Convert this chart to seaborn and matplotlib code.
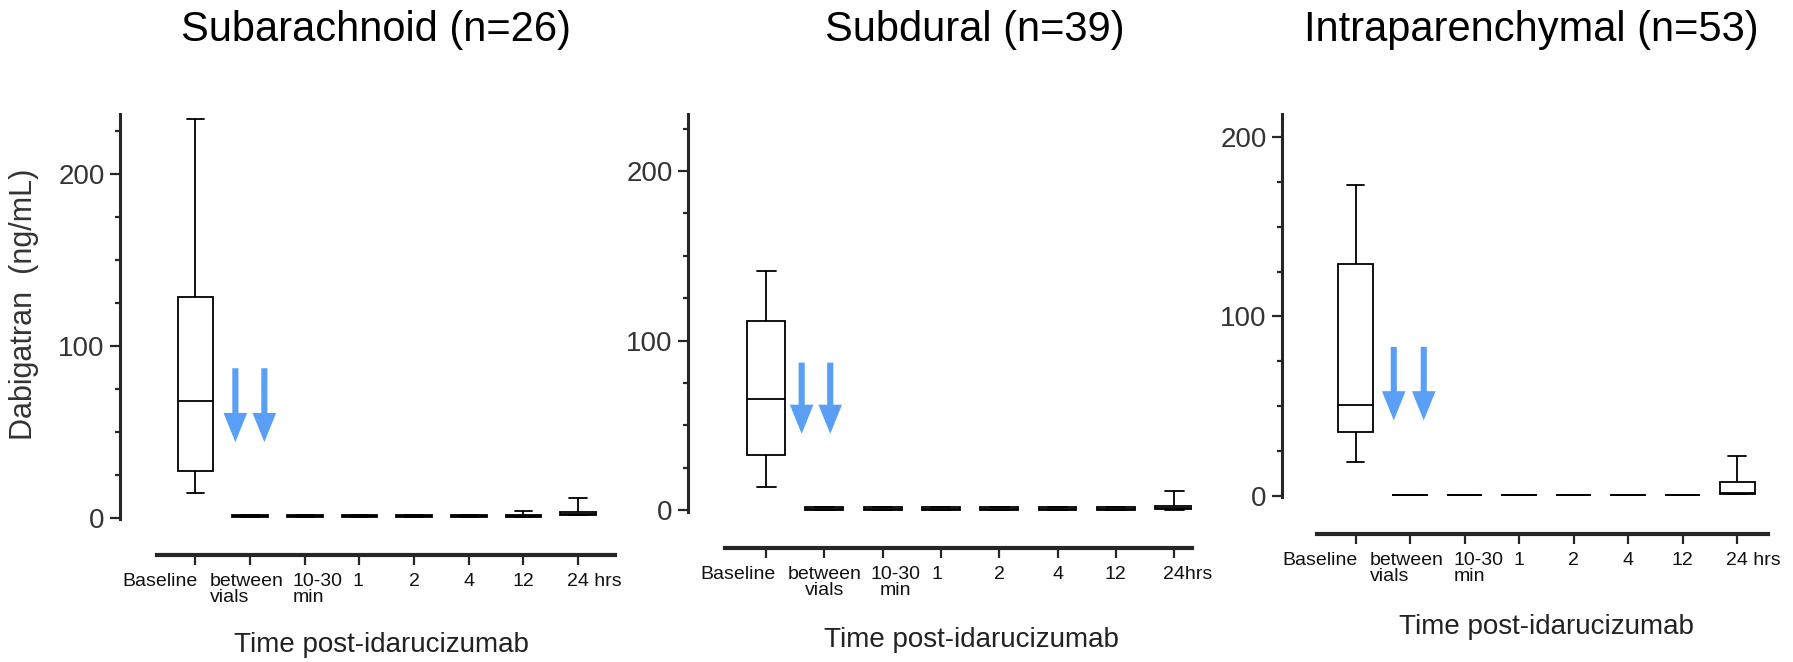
import numpy as np
import pandas as pd
import seaborn as sns
import matplotlib.pyplot as plt
import matplotlib.transforms as mtransforms
from matplotlib.ticker import MultipleLocator

# categories on the x axis
categories = ["Baseline", "between\nvials", "10-30\nmin", "1", "2", "4", "12", "24 hrs"]
titles = ["Subarachnoid (n=26)", "Subdural (n=39)", "Intraparenchymal (n=53)"]

# five-number summaries: min, q1, median, q3, max (ng/mL)
subarachnoid = [
    [14.5, 27.0, 68.0, 128.5, 232.0],
    [0.2, 0.2, 0.8, 1.6, 1.6],
    [0.2, 0.2, 0.8, 1.6, 1.6],
    [0.2, 0.2, 0.8, 1.6, 1.6],
    [0.2, 0.2, 0.8, 1.6, 1.6],
    [0.2, 0.2, 0.8, 1.6, 1.6],
    [0.2, 0.2, 0.8, 1.6, 3.9],
    [1.5, 1.5, 2.3, 3.1, 11.2],
]
subdural = [
    [13.4, 32.6, 65.3, 111.7, 141.2],
    [0.2, 0.2, 0.8, 1.6, 1.6],
    [0.2, 0.2, 0.8, 1.6, 1.6],
    [0.2, 0.2, 0.8, 1.6, 1.6],
    [0.2, 0.2, 0.8, 1.6, 1.6],
    [0.2, 0.2, 0.8, 1.6, 1.6],
    [0.2, 0.2, 0.8, 1.6, 1.6],
    [0.2, 0.5, 1.5, 2.6, 11.2],
]
intraparenchymal = [
    [19.0, 35.3, 50.6, 129.5, 173.6],
    [0.6, 0.6, 0.6, 0.6, 0.6],
    [0.6, 0.6, 0.6, 0.6, 0.6],
    [0.6, 0.6, 0.6, 0.6, 0.6],
    [0.6, 0.6, 0.6, 0.6, 0.6],
    [0.6, 0.6, 0.6, 0.6, 0.6],
    [0.6, 0.6, 0.6, 0.6, 0.6],
    [0.8, 0.8, 1.2, 7.8, 22.1],
]
panel_stats = [subarachnoid, subdural, intraparenchymal]

# blue arrows (idarucizumab vials): x in category units, shaft top, tip
arrow_x = [[0.73, 1.26], [0.61, 1.10], [0.70, 1.25]]
arrow_top = [87, 87, 83]
arrow_tip = [44, 45, 42]

W, H = 1793, 662
# axes boxes in pixels: left, right, top, bottom ; limits
ax_px = [(120, 614.8, 114, 555), (688, 1191.6, 114, 548), (1282, 1768.3, 114, 534.3)]
ylims = [(-21.7, 235), (-22.3, 233.6), (-21.6, 213)]
xlims = [(-1.38, 7.67), (-1.34, 7.30), (-1.35, 7.57)]
title_px = [(376, 30), (975, 30), (1531, 30)]
xlabel_px = [(381, 645), (971, 640), (1546, 627)]

# tick label tweaks per panel: (ha, multialignment, dx in px)
label_tweaks = [
    [("right", "left", 2), ("left", "left", -40), ("left", "left", -12), ("center", "left", -2),
     ("center", "left", 0), ("center", "left", 0), ("center", "left", 0), ("left", "left", -11)],
    [("right", "left", 10), ("center", "center", 0), ("left", "center", -12), ("center", "left", -4),
     ("center", "left", 0), ("center", "left", 0), ("center", "left", 0), ("left", "left", -11)],
    [("right", "left", 2), ("left", "left", -40), ("left", "left", -11), ("center", "left", 0),
     ("center", "left", 0), ("center", "left", 0), ("center", "left", 0), ("left", "left", -11)],
]

sns.set_style("ticks")
plt.rcParams["font.family"] = ["Liberation Sans", "DejaVu Sans"]

fig = plt.figure(figsize=(W / 100, H / 100), dpi=100)

for i, stats in enumerate(panel_stats):
    l, r, t, b = ax_px[i]
    ax = fig.add_axes([l / W, 1 - b / H, (r - l) / W, (b - t) / H])

    rows = []
    for cat, vals in zip(categories, stats):
        for v in vals:
            rows.append({"time": cat, "value": v})
    df = pd.DataFrame(rows)

    sns.boxplot(data=df, x="time", y="value", order=categories, whis=(0, 100),
                width=0.65, linewidth=1.3, color="white", linecolor="black",
                showfliers=False, ax=ax)

    for xa in arrow_x[i]:
        ax.annotate("", xy=(xa, arrow_tip[i]), xytext=(xa, arrow_top[i]),
                    arrowprops=dict(arrowstyle="simple,head_length=1.05,head_width=0.85,tail_width=0.22",
                                    mutation_scale=20, color="#589ff5", lw=0,
                                    shrinkA=0, shrinkB=0))

    ax.set_xlim(*xlims[i])
    ax.set_ylim(*ylims[i])
    ax.set_xlabel("")
    ax.set_ylabel("")

    sns.despine(ax=ax)
    ax.spines["left"].set_bounds(-0.8, ylims[i][1])
    ax.spines["left"].set_linewidth(2.2)
    ax.spines["bottom"].set_bounds(-0.70, xlims[i][1])
    ax.spines["bottom"].set_linewidth(3.0)

    ax.yaxis.set_major_locator(MultipleLocator(100))
    ax.yaxis.set_minor_locator(MultipleLocator(25))
    ax.tick_params(axis="y", which="major", length=7, width=1.6, labelsize=20,
                   labelcolor="#333333", pad=4)
    ax.tick_params(axis="y", which="minor", length=3.6, width=1.6)
    ax.tick_params(axis="x", length=7, width=1.6, labelsize=14, pad=6,
                   labelcolor="#111111")

    labels = list(categories)
    if i == 1:
        labels[-1] = "24hrs"
    ax.set_xticks(range(len(categories)))
    ax.set_xticklabels(labels)
    for lab, (ha, ma, dx) in zip(ax.get_xticklabels(), label_tweaks[i]):
        lab.set_ha(ha)
        lab.set_multialignment(ma)
        lab.set_linespacing(0.9)
        lab.set_transform(lab.get_transform() +
                          mtransforms.ScaledTranslation(dx / 100, 0, fig.dpi_scale_trans))

    tx, ty = title_px[i]
    fig.text(tx / W, 1 - ty / H, titles[i], ha="center", va="center", fontsize=30, color="black")
    lx, ly = xlabel_px[i]
    fig.text(lx / W, 1 - ly / H, "Time post-idarucizumab", ha="center", va="center",
             fontsize=20, color="#222222")

fig.text(24 / W, 1 - 304 / H, "Dabigatran  (ng/mL)", rotation=90, ha="center", va="center",
         fontsize=22, color="#333333")

fig.savefig("out.png", dpi=100)
